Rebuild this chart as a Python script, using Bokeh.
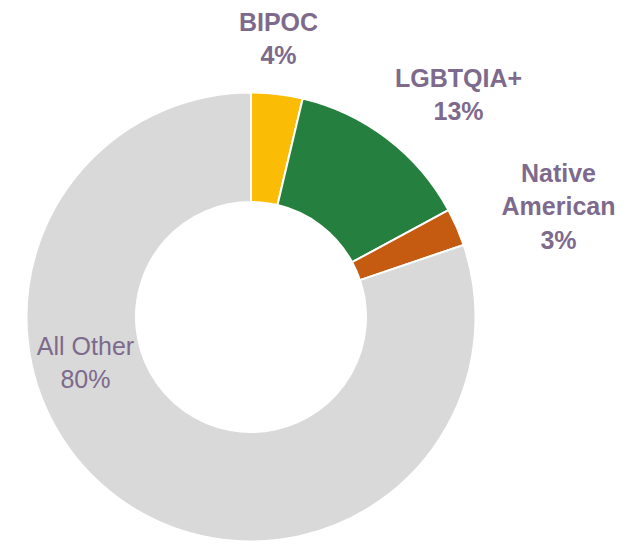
import numpy as np
from bokeh.plotting import figure
from bokeh.models import ColumnDataSource, Range1d
from bokeh.core.properties import value
from bokeh.embed import file_html
from bokeh.resources import INLINE

# data
categories = ["BIPOC", "LGBTQIA+", "Native American", "All Other"]
shares = [3.7, 13.4, 2.7, 80.2]
pct_labels = ["4%", "13%", "3%", "80%"]
colors = ["#FBBC05", "#258040", "#C55A11", "#D9D9D9"]
label_text = ["BIPOC\n4%", "LGBTQIA+\n13%", "Native\nAmerican\n3%", "All Other\n80%"]
label_x = [27.5, 207.5, 307.5, -165.5]
label_y = [278.5, 222.5, 110.5, -45.5]
label_weight = ["bold", "bold", "bold", "normal"]

vals = np.array(shares, dtype=float)
frac = vals / vals.sum()
cum_end = np.cumsum(frac)
cum_start = cum_end - frac
start_angle = np.pi / 2 - 2 * np.pi * cum_end
end_angle = np.pi / 2 - 2 * np.pi * cum_start

src = ColumnDataSource(dict(cat=categories, start=start_angle, end=end_angle, color=colors))

W, H = 626, 542
x0 = -250.5
ytop = 316.5
p = figure(width=W, height=H, output_backend="svg", toolbar_location=None,
           x_range=Range1d(x0, x0 + W), y_range=Range1d(ytop - H, ytop),
           min_border=0)
p.axis.visible = False
p.grid.visible = False
p.outline_line_color = None
p.background_fill_color = "white"
p.border_fill_color = "white"

p.annular_wedge(x=0, y=0, inner_radius=115, outer_radius=224.5,
                start_angle="start", end_angle="end", fill_color="color",
                line_color="white", line_width=2, source=src)

text_color = "#7D6A8C"
for t, x, y, w in zip(label_text, label_x, label_y, label_weight):
    p.text(x=[x], y=[y], text=[t], text_align="center", text_baseline="middle",
           text_font=value("Liberation Sans"), text_font_size="25px",
           text_font_style=w, text_color=text_color, text_line_height=1.2)

open("out.html", "w").write(file_html(p, INLINE))
